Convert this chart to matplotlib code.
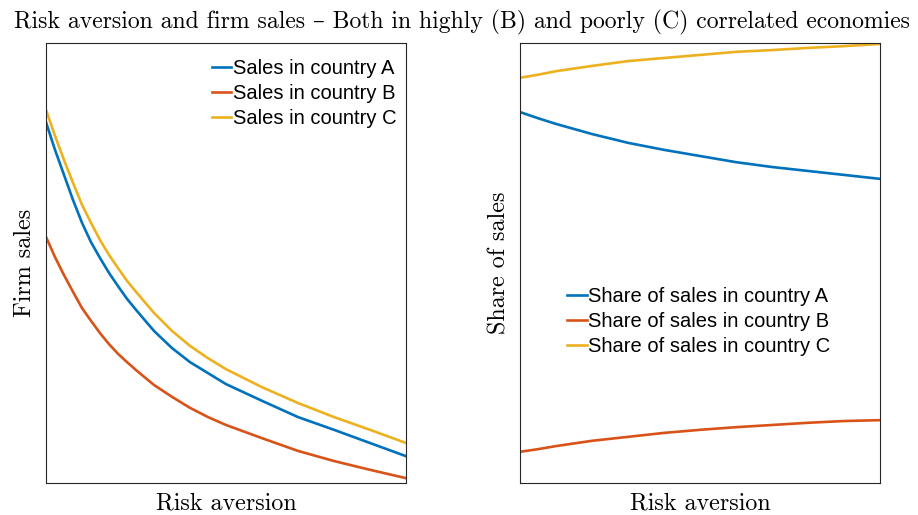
import matplotlib
matplotlib.use('Agg')
import matplotlib.pyplot as plt

# risk aversion grid (normalised)
x_left = [0, .025, .05, .075, .1, .125, .15, .175, .2, .225, .25, .3, .35, .4, .45, .5, .6, .7, .8, .9, 1.0]
sales_A = [82.1, 75.8, 70.1, 64.4, 59.2, 54.8, 51.2, 47.8, 44.8, 41.9, 39.4, 34.6, 30.7, 27.5, 25.0, 22.5,
           18.7, 15.0, 12.1, 9.1, 6.1]
sales_B = [56.0, 51.4, 47.3, 43.5, 39.8, 36.9, 34.1, 31.6, 29.4, 27.5, 25.7, 22.3, 19.6, 17.1, 15.0, 13.2,
           10.2, 7.3, 5.0, 3.0, 1.1]
sales_C = [84.9, 79.0, 73.5, 68.3, 63.3, 59.2, 55.3, 51.9, 48.9, 46.0, 43.5, 38.7, 34.6, 31.2, 28.4, 25.9,
           21.8, 18.2, 15.0, 12.1, 9.1]

x_right = [0, .05, .1, .2, .3, .4, .5, .6, .7, .8, .9, 1.0]
share_A = [84.4, 83.0, 81.7, 79.4, 77.4, 75.8, 74.4, 73.0, 71.9, 71.0, 70.1, 69.2]
share_B = [7.1, 7.7, 8.4, 9.6, 10.5, 11.4, 12.1, 12.7, 13.2, 13.7, 14.1, 14.3]
share_C = [92.2, 92.9, 93.7, 94.9, 96.0, 96.7, 97.4, 98.1, 98.5, 99.0, 99.4, 99.9]

colors = ['#0072BD', '#D95319', '#EDB120']
serif = ['cmr10', 'DejaVu Serif']
sans = ['Liberation Sans', 'DejaVu Sans']

fig = plt.figure(figsize=(9.18, 5.15), dpi=100)
ax1 = fig.add_axes([46/918, 32/515, 360/918, 439.5/515])
ax2 = fig.add_axes([520/918, 32/515, 360/918, 439.5/515])

for y, c, lab in zip([sales_A, sales_B, sales_C], colors,
                     ['Sales in country A', 'Sales in country B', 'Sales in country C']):
    ax1.plot(x_left, y, color=c, lw=1.9, label=lab, solid_joinstyle='round')
for y, c, lab in zip([share_A, share_B, share_C], colors,
                     ['Share of sales in country A', 'Share of sales in country B',
                      'Share of sales in country C']):
    ax2.plot(x_right, y, color=c, lw=1.9, label=lab, solid_joinstyle='round')

for ax, yl in [(ax1, 'Firm sales'), (ax2, 'Share of sales')]:
    ax.set_xlim(0, 1)
    ax.set_ylim(0, 100)
    ax.set_xticks([])
    ax.set_yticks([])
    for s in ax.spines.values():
        s.set_color('#262626')
        s.set_linewidth(0.8)
    ax.set_xlabel('Risk aversion', family=serif, fontsize=17.3, labelpad=7)
    ax.set_ylabel(yl, family=serif, fontsize=17.3, labelpad=7)

leg_kw = dict(frameon=False, handlelength=0.95, handletextpad=0.08, labelspacing=0.3,
              borderpad=0.2, prop={'family': sans, 'size': 14.5})
ax1.legend(loc='upper right', bbox_to_anchor=(1.013, 0.996), **leg_kw)
ax2.legend(loc='center', bbox_to_anchor=(0.497, 0.367), **leg_kw)

fig.text(0.503, 0.98, 'Risk aversion and firm sales \u2013 Both in highly (B) and poorly (C) correlated economies',
         ha='center', va='top', family=serif, fontsize=17.1)

fig.savefig('out.png', dpi=100)
